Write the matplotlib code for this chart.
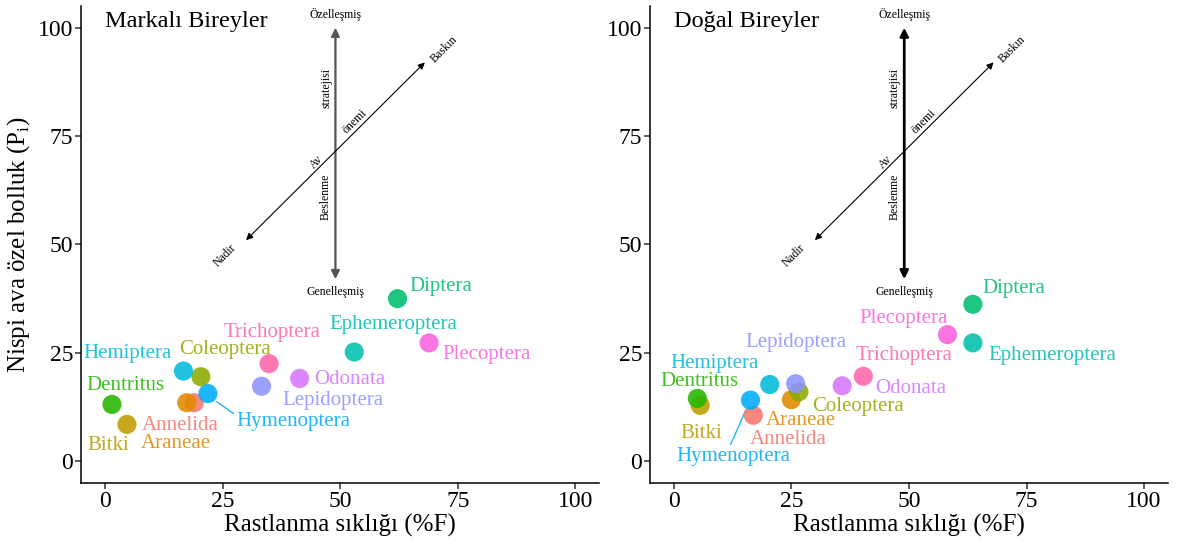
import matplotlib
matplotlib.use("Agg")
import matplotlib.pyplot as plt

plt.rcParams['font.family'] = ['Liberation Serif', 'DejaVu Serif']
plt.rcParams['mathtext.fontset'] = 'custom'
plt.rcParams['mathtext.rm'] = 'Liberation Serif'

# Prey groups (alphabetical, also the drawing order)
groups = ["Annelida", "Araneae", "Bitki", "Coleoptera", "Dentritus", "Diptera",
          "Ephemeroptera", "Hemiptera", "Hymenoptera", "Lepidoptera", "Odonata",
          "Plecoptera", "Trichoptera"]

# Marked individuals: frequency of occurrence (%F) and prey-specific abundance (Pi)
marked_f = [19.0, 17.4, 4.7, 20.4, 1.5, 62.2, 53.0, 16.7, 21.9, 33.3, 41.4, 68.9, 34.9]
marked_p = [13.5, 13.5, 8.5, 19.5, 13.1, 37.5, 25.2, 20.8, 15.6, 17.3, 19.1, 27.3, 22.5]

# Natural individuals
natural_f = [16.9, 25.0, 5.6, 26.6, 5.0, 63.6, 63.6, 20.4, 16.3, 25.9, 35.8, 58.2, 40.3]
natural_p = [10.6, 14.2, 12.9, 16.0, 14.5, 36.2, 27.3, 17.7, 14.1, 17.9, 17.4, 29.2, 19.6]

# ggplot hue palette for 13 groups
colors = ["#F8766D", "#E18A00", "#BE9C00", "#8CAB00", "#24B700", "#00BE70", "#00C1AB",
          "#00BBDA", "#00ACFC", "#8B93FF", "#D575FE", "#F962DD", "#FF65AC"]

# label offsets from each point (data units)
marked_offsets = {
    "Annelida": (-3.0, -5.2), "Araneae": (-2.3, -9.4), "Bitki": (-3.9, -4.8),
    "Coleoptera": (5.1, 6.3), "Dentritus": (2.8, 4.4), "Diptera": (9.2, 2.7),
    "Ephemeroptera": (8.2, 6.4), "Hemiptera": (-11.9, 4.1), "Hymenoptera": (18.1, -6.5),
    "Lepidoptera": (15.2, -3.2), "Odonata": (10.7, -0.2), "Plecoptera": (12.2, -2.6),
    "Trichoptera": (0.6, 7.3),
}
natural_offsets = {
    "Annelida": (7.4, -5.7), "Araneae": (2.1, -4.9), "Bitki": (0.3, -6.5),
    "Coleoptera": (12.5, -3.4), "Dentritus": (0.4, 4.0), "Diptera": (8.6, 3.7),
    "Ephemeroptera": (16.8, -2.8), "Hemiptera": (-11.7, 4.9), "Hymenoptera": (-3.7, -13.1),
    "Lepidoptera": (0.0, 9.6), "Odonata": (14.5, -0.7), "Plecoptera": (-9.4, 3.8),
    "Trichoptera": (8.7, 4.9),
}
# leader segments (start, end offsets from the point)
marked_leaders = {"Hymenoptera": ((1.9, -1.9), (5.4, -4.6))}
natural_leaders = {"Hymenoptera": ((-1.0, -2.3), (-4.2, -10.2))}

fig = plt.figure(figsize=(11.79, 5.5), dpi=100)
ax1 = fig.add_axes([0.069, 0.122, 0.439, 0.867])
ax2 = fig.add_axes([0.5516, 0.122, 0.4387, 0.867])


def draw_guide(ax, vcolor, vwidth):
    # feeding strategy axis (vertical) and prey importance axis (diagonal)
    ax.annotate("", xy=(49, 100), xytext=(49, 42),
                arrowprops=dict(arrowstyle="<|-|>", color=vcolor, lw=vwidth,
                                mutation_scale=12, shrinkA=0, shrinkB=0))
    ax.annotate("", xy=(68, 92), xytext=(30, 51),
                arrowprops=dict(arrowstyle="<|-|>", color="black", lw=0.8,
                                mutation_scale=10, shrinkA=0, shrinkB=0))
    fs = 8.5
    ax.text(49, 103, "Özelleşmiş", ha="center", va="center", fontsize=fs)
    ax.text(49, 39, "Genelleşmiş", ha="center", va="center", fontsize=fs)
    ax.text(47.0, 86.0, "stratejisi", ha="center", va="center", rotation=90, fontsize=fs)
    ax.text(47.0, 61.0, "Beslenme", ha="center", va="center", rotation=90, fontsize=fs)
    ax.text(72.0, 95.0, "Baskın", ha="center", va="center", rotation=45, fontsize=fs)
    ax.text(25.5, 47.5, "Nadir", ha="center", va="center", rotation=45, fontsize=fs)
    ax.text(53.1, 78.3, "önemi", ha="center", va="center", rotation=45, fontsize=fs)
    ax.text(45.0, 69.1, "Av", ha="center", va="center", rotation=45, fontsize=fs)


def draw_panel(ax, fx, py, offsets, leaders, title, vcolor, vwidth):
    draw_guide(ax, vcolor, vwidth)
    for name, x, y, c in zip(groups, fx, py, colors):
        ax.scatter(x, y, s=190, color=c, alpha=0.88, edgecolors="none", zorder=3)
        dx, dy = offsets[name]
        ax.text(x + dx, y + dy, name, color=c, alpha=0.88, fontsize=15,
                ha="center", va="center", zorder=4)
        if name in leaders:
            (sx, sy), (ex, ey) = leaders[name]
            ax.plot([x + sx, x + ex], [y + sy, y + ey], color=c, alpha=0.88,
                    lw=1.0, zorder=2)
    ax.text(0, 101.4, title, fontsize=17.5, ha="left", va="center")
    ax.set_xlim(-5, 105)
    ax.set_ylim(-5, 105)
    ax.set_xticks([0, 25, 50, 75, 100])
    ax.set_yticks([0, 25, 50, 75, 100])
    ax.tick_params(labelsize=17, length=4, width=1.1, color="#333333", pad=2)
    for side in ("top", "right"):
        ax.spines[side].set_visible(False)
    for side in ("left", "bottom"):
        ax.spines[side].set_linewidth(1.1)
    ax.set_xlabel("Rastlanma sıklığı (%F)", fontsize=18, labelpad=1)


draw_panel(ax1, marked_f, marked_p, marked_offsets, marked_leaders,
           "Markalı Bireyler", "#555555", 1.6)
draw_panel(ax2, natural_f, natural_p, natural_offsets, natural_leaders,
           "Doğal Bireyler", "black", 2.0)
ax1.set_ylabel(r"Nispi ava özel bolluk (P$_\mathregular{i}$)", fontsize=18, labelpad=4)

fig.savefig("out.png", dpi=100)
